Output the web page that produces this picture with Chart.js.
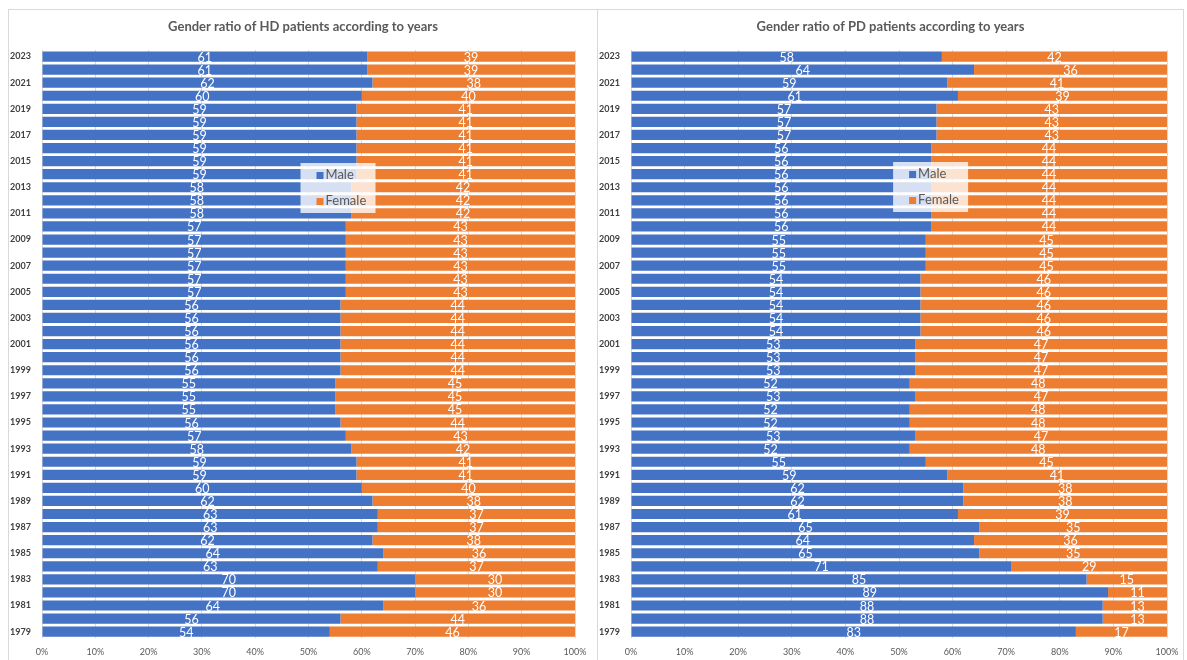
<!DOCTYPE html>
<html>
<head>
<meta charset="utf-8">
<script src="https://cdn.jsdelivr.net/npm/chart.js@4/dist/chart.umd.min.js"></script>
<style>
  body { margin: 0; background: #fff; font-family: Lato, sans-serif; }
  .panel { position: absolute; top: 9px; height: 651px; border: 1px solid #d9d9d9; border-bottom: none; box-sizing: border-box; }
  #leftPanel { left: 8px; width: 590px; }
  #rightPanel { left: 597px; width: 587px; }
</style>
</head>
<body>
<div class="panel" id="leftPanel"><canvas id="hdChart"></canvas></div>
<div class="panel" id="rightPanel"><canvas id="pdChart"></canvas></div>
<script>
var years = [];
for (var y = 2023; y >= 1979; y--) years.push(String(y));

var hdMale = [61, 61, 62, 60, 59, 59, 59, 59, 59, 59,
              58, 58, 58, 57, 57, 57, 57, 57, 57, 56,
              56, 56, 56, 56, 56, 55, 55, 55, 56, 57,
              58, 59, 59, 60, 62, 63, 63, 62, 64, 63,
              70, 70, 64, 56, 54];
var hdFemale = [39, 39, 38, 40, 41, 41, 41, 41, 41, 41,
                42, 42, 42, 43, 43, 43, 43, 43, 43, 44,
                44, 44, 44, 44, 44, 45, 45, 45, 44, 43,
                42, 41, 41, 40, 38, 37, 37, 38, 36, 37,
                30, 30, 36, 44, 46];
var pdMale = [58, 64, 59, 61, 57, 57, 57, 56, 56, 56,
              56, 56, 56, 56, 55, 55, 55, 54, 54, 54,
              54, 54, 53, 53, 53, 52, 53, 52, 52, 53,
              52, 55, 59, 62, 62, 61, 65, 64, 65, 71,
              85, 89, 88, 88, 83];
var pdFemale = [42, 36, 41, 39, 43, 43, 43, 44, 44, 44,
                44, 44, 44, 44, 45, 45, 45, 46, 46, 46,
                46, 46, 47, 47, 47, 48, 47, 48, 48, 47,
                48, 45, 41, 38, 38, 39, 35, 36, 35, 29,
                15, 11, 13, 13, 17];

var blue = '#4472C4';
var orange = '#ED7D31';
var textGray = '#595959';

var barLabels = {
    id: 'barLabels',
    afterDatasetsDraw: function (chart) {
        var ctx = chart.ctx;
        ctx.save();
        ctx.fillStyle = '#ffffff';
        ctx.font = '12.5px Lato';
        ctx.textAlign = 'center';
        ctx.textBaseline = 'middle';
        chart.data.datasets.forEach(function (ds, i) {
            chart.getDatasetMeta(i).data.forEach(function (bar, j) {
                ctx.fillText(ds.data[j], (bar.base + bar.x) / 2, bar.y + 1);
            });
        });
        ctx.restore();
    }
};

// title centred on the whole panel, like the spreadsheet chart
var panelTitle = {
    id: 'panelTitle',
    afterDraw: function (chart, args, opts) {
        var ctx = chart.ctx;
        ctx.save();
        ctx.fillStyle = textGray;
        ctx.font = 'bold 13px Lato';
        ctx.textAlign = 'center';
        ctx.textBaseline = 'middle';
        ctx.fillText(opts.text, chart.width / 2, 17);
        ctx.restore();
    }
};

var boxLegend = {
    id: 'boxLegend',
    afterDatasetsDraw: function (chart, args, opts) {
        var ctx = chart.ctx;
        var a = chart.chartArea;
        var x = a.left + opts.fx * (a.right - a.left);
        var y = a.top + opts.dy;
        ctx.save();
        ctx.fillStyle = 'rgba(255,255,255,0.78)';
        ctx.fillRect(x, y, 75, 50);
        ctx.font = '13px Lato';
        ctx.textBaseline = 'middle';
        chart.data.datasets.forEach(function (ds, i) {
            var cy = y + 12 + i * 26;
            ctx.fillStyle = ds.backgroundColor;
            ctx.fillRect(x + 16, cy - 3, 7, 7);
            ctx.fillStyle = textGray;
            ctx.fillText(ds.label, x + 25, cy);
        });
        ctx.restore();
    }
};

function makeChart(id, title, male, female, legendPos, padRight) {
    return new Chart(document.getElementById(id), {
        type: 'bar',
        data: {
            labels: years,
            datasets: [
                { label: 'Male', data: male, backgroundColor: blue },
                { label: 'Female', data: female, backgroundColor: orange }
            ]
        },
        options: {
            indexAxis: 'y',
            responsive: true,
            maintainAspectRatio: false,
            animation: false,
            barPercentage: 0.78,
            categoryPercentage: 1,
            layout: { padding: { left: 0, right: padRight, top: 40, bottom: -5 } },
            plugins: {
                legend: { display: false },
                tooltip: { enabled: false },
                title: { display: false },
                panelTitle: { text: title },
                boxLegend: legendPos
            },
            scales: {
                x: {
                    stacked: true,
                    min: 0,
                    max: 100,
                    afterFit: function (scale) { scale.paddingLeft = 0; scale.paddingRight = 0; },
                    ticks: {
                        stepSize: 10,
                        color: textGray,
                        padding: 8,
                        font: { family: 'Lato', size: 9 },
                        callback: function (v) { return v + '%'; }
                    },
                    grid: { color: '#d9d9d9', drawTicks: false },
                    border: { display: false }
                },
                y: {
                    stacked: true,
                    afterFit: function (scale) { scale.width = 33; },
                    ticks: {
                        autoSkip: false,
                        color: '#404040',
                        font: { family: 'Lato', size: 9, weight: 'bold' },
                        callback: function (v, i) { return i % 2 === 0 ? this.getLabelForValue(v) : ''; }
                    },
                    grid: { display: false },
                    border: { display: false }
                }
            }
        },
        plugins: [barLabels, boxLegend, panelTitle]
    });
}

makeChart('hdChart', 'Gender ratio of HD patients according to years', hdMale, hdFemale, { fx: 0.485, dy: 113 }, 22);
makeChart('pdChart', 'Gender ratio of PD patients according to years', pdMale, pdFemale, { fx: 0.489, dy: 112 }, 16);
</script>
</body>
</html>
